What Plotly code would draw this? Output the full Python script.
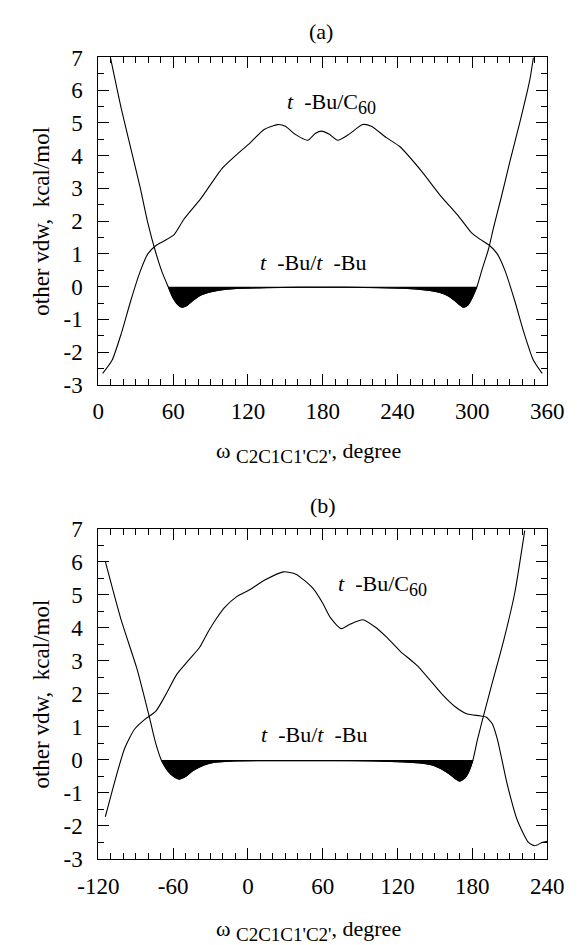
import plotly.graph_objects as go

# ---------------- Data ----------------
# Panel (a)
a_c60_x = [3.5, 11, 18.5, 26, 33.5, 39.7, 46, 53, 61, 68.5, 82, 99, 110, 122, 133, 144, 150, 158,
           168, 174, 179, 185, 192, 201, 212, 219, 231, 241.7, 259.2, 274.2, 289.2, 299.2, 306,
           314, 320, 326.5, 334, 341.5, 349, 356]
a_c60_y = [-2.65, -2.25, -1.42, -0.43, 0.46, 1.0, 1.25, 1.4, 1.6, 2.05, 2.68, 3.6, 4.0, 4.4, 4.8,
           4.95, 4.9, 4.65, 4.47, 4.68, 4.75, 4.66, 4.47, 4.65, 4.95, 4.9, 4.55, 4.28, 3.53, 2.79,
           2.14, 1.65, 1.45, 1.25, 1.0, 0.46, -0.43, -1.42, -2.25, -2.65]

a_tbu_x = [9.7, 18.5, 26, 33.5, 39.7, 46, 51, 56, 60, 64, 67.2, 71, 76, 82, 90, 100, 115, 135,
           160, 180, 200, 225, 245, 256.7, 266, 274, 280, 285, 289, 293, 296.5, 300, 303.7, 308,
           313, 317, 323, 330, 338, 346, 349]
a_tbu_y = [7.0, 5.42, 4.23, 3.04, 1.95, 1.05, 0.46, 0.0, -0.35, -0.56, -0.63, -0.58, -0.42,
           -0.26, -0.16, -0.09, -0.05, -0.03, -0.02, -0.02, -0.02, -0.03, -0.05, -0.08, -0.12,
           -0.18, -0.27, -0.4, -0.53, -0.63, -0.56, -0.33, 0.0, 0.55, 1.15, 1.8, 2.7, 3.8, 5.0,
           6.3, 7.0]

# Panel (b)
b_c60_x = [-114.4, -106, -99, -91, -82.7, -74, -65.6, -57, -47, -39, -32, -25, -19, -9, 1, 13.5,
           28.5, 38.5, 52.2, 60, 66, 74.7, 82.2, 92.2, 102, 111, 122, 136, 156, 166, 176, 186,
           191, 196, 200, 208, 216, 225, 230, 236, 240]
b_c60_y = [-1.72, -0.54, 0.34, 0.93, 1.23, 1.47, 2.0, 2.6, 3.05, 3.4, 3.88, 4.3, 4.61, 4.95, 5.15,
           5.45, 5.7, 5.63, 5.2, 4.75, 4.32, 3.98, 4.12, 4.25, 4.03, 3.73, 3.3, 2.85, 1.98, 1.62,
           1.39, 1.34, 1.3, 1.1, 0.64, -0.74, -1.82, -2.5, -2.6, -2.5, -2.46]

b_tbu_x = [-114.4, -101.5, -89, -79, -74, -69.5, -64, -59, -55.3, -50, -44, -35, -26.5, -10, 10,
           40, 70, 100, 125, 140, 148.5, 155, 161, 166, 169.7, 174, 177, 180.5, 184, 188, 195,
           205, 214, 222]
b_tbu_y = [6.02, 4.22, 2.76, 1.29, 0.51, 0.0, -0.35, -0.52, -0.58, -0.5, -0.32, -0.15, -0.07,
           -0.03, -0.02, -0.02, -0.02, -0.03, -0.06, -0.1, -0.16, -0.27, -0.41, -0.56, -0.64,
           -0.55, -0.37, 0.0, 0.6, 1.2, 2.2, 3.6, 5.06, 6.95]

a_ticks = [0, 60, 120, 180, 240, 300, 360]
b_ticks = [-120, -60, 0, 60, 120, 180, 240]
y_ticks = [-3, -2, -1, 0, 1, 2, 3, 4, 5, 6, 7]

# ---------------- Figure ----------------
W, H = 585, 945
FONT = "Liberation Serif"
LINE = dict(color="black", width=1.1, shape="spline", smoothing=0.6)


def lbl(v):
    return str(v).replace("\u2212", "-")


def neg_part(xs, ys):
    """Points of the curve between its two zero crossings (the well below zero)."""
    idx = [i for i, v in enumerate(ys) if v <= 0]
    lo, hi = idx[0], idx[-1]
    return xs[lo:hi + 1], ys[lo:hi + 1]


fig = go.Figure()
for xs, ys, xa, ya in [(a_c60_x, a_c60_y, "x", "y"), (a_tbu_x, a_tbu_y, "x", "y"),
                       (b_c60_x, b_c60_y, "x2", "y2"), (b_tbu_x, b_tbu_y, "x2", "y2")]:
    fig.add_trace(go.Scatter(x=xs, y=ys, mode="lines", line=LINE, xaxis=xa, yaxis=ya,
                             showlegend=False, hoverinfo="skip"))

for xs, ys, xa, ya in [(a_tbu_x, a_tbu_y, "x", "y"), (b_tbu_x, b_tbu_y, "x2", "y2")]:
    fx, fy = neg_part(xs, ys)
    fig.add_trace(go.Scatter(x=fx, y=fy, mode="lines", fill="tozeroy", fillcolor="black",
                             line=dict(color="black", width=1, shape="spline", smoothing=0.6),
                             xaxis=xa, yaxis=ya, showlegend=False, hoverinfo="skip"))

xdom = [82.7 / W, 562.7 / W]
ya_dom = [1 - 383 / H, 1 - 46.7 / H]
yb_dom = [1 - 870 / H, 1 - 531 / H]

common_ax = dict(showline=True, linecolor="black", linewidth=1, mirror="ticks",
                 ticks="inside", ticklen=11, tickwidth=1, tickcolor="black",
                 showgrid=False, zeroline=False,
                 tickfont=dict(family=FONT, size=23, color="black"))

ytxt = [lbl(v) for v in y_ticks]
fig.update_layout(
    width=W, height=H, margin=dict(l=0, r=0, t=0, b=0),
    paper_bgcolor="white", plot_bgcolor="white",
    xaxis=dict(domain=xdom, anchor="y", range=[0, 360], tickvals=a_ticks,
               ticktext=[lbl(v) for v in a_ticks],
               minor=dict(dtick=10, ticks="inside", ticklen=6, tickcolor="black"),
               ticklabelstandoff=6, **common_ax),
    yaxis=dict(domain=ya_dom, anchor="x", range=[-3, 7], tickvals=y_ticks, ticktext=ytxt,
               minor=dict(dtick=0.5, ticks="inside", ticklen=6, tickcolor="black"),
               ticklabelstandoff=10, **common_ax),
    xaxis2=dict(domain=xdom, anchor="y2", range=[-120, 240], tickvals=b_ticks,
                ticktext=[lbl(v) for v in b_ticks],
                minor=dict(dtick=10, ticks="inside", ticklen=6, tickcolor="black"),
                ticklabelstandoff=6, **common_ax),
    yaxis2=dict(domain=yb_dom, anchor="x2", range=[-3, 7], tickvals=y_ticks, ticktext=ytxt,
                minor=dict(dtick=0.5, ticks="inside", ticklen=6, tickcolor="black"),
                ticklabelstandoff=10, **common_ax),
)

tf = dict(family=FONT, size=22, color="black")
ann = []
# panel titles
ann.append(dict(text="(a)", x=321 / W, y=1 - 20 / H, xref="paper", yref="paper",
                showarrow=False, font=tf, xanchor="center", yanchor="middle"))
ann.append(dict(text="(b)", x=323 / W, y=1 - 507 / H, xref="paper", yref="paper",
                showarrow=False, font=tf, xanchor="center", yanchor="middle"))
# axis titles
for yc in [(46.7 + 383) / 2, (531 + 870) / 2]:
    ann.append(dict(text="other vdw,  kcal/mol", x=22 / W, y=1 - yc / H, xref="paper",
                    yref="paper", showarrow=False, textangle=-90,
                    font=dict(family=FONT, size=23, color="black"),
                    xanchor="center", yanchor="middle"))
xt = ("ω <sub><span style='font-size:19px'>C2C1C1'C2'</span></sub>, degree")
ann.append(dict(text=xt, x=307 / W, y=1 - 452 / H, xref="paper", yref="paper",
                showarrow=False, font=tf, xanchor="center", yanchor="middle"))
ann.append(dict(text=xt, x=307 / W, y=1 - 943 / H, xref="paper", yref="paper",
                showarrow=False, font=tf, xanchor="center", yanchor="middle"))
# curve labels
c60 = "<i>t</i>  -Bu/C<sub><span style='font-size:18px'>60</span></sub>"
tbu = "<i>t</i>  -Bu/<i>t</i>  -Bu"
ann.append(dict(text=c60, x=187, y=5.6, xref="x", yref="y", showarrow=False, font=tf))
ann.append(dict(text=tbu, x=172, y=0.75, xref="x", yref="y", showarrow=False, font=tf))
ann.append(dict(text=c60, x=108, y=5.3, xref="x2", yref="y2", showarrow=False, font=tf))
ann.append(dict(text=tbu, x=53, y=0.78, xref="x2", yref="y2", showarrow=False, font=tf))
fig.update_layout(annotations=ann)

fig.write_html("out.html")
